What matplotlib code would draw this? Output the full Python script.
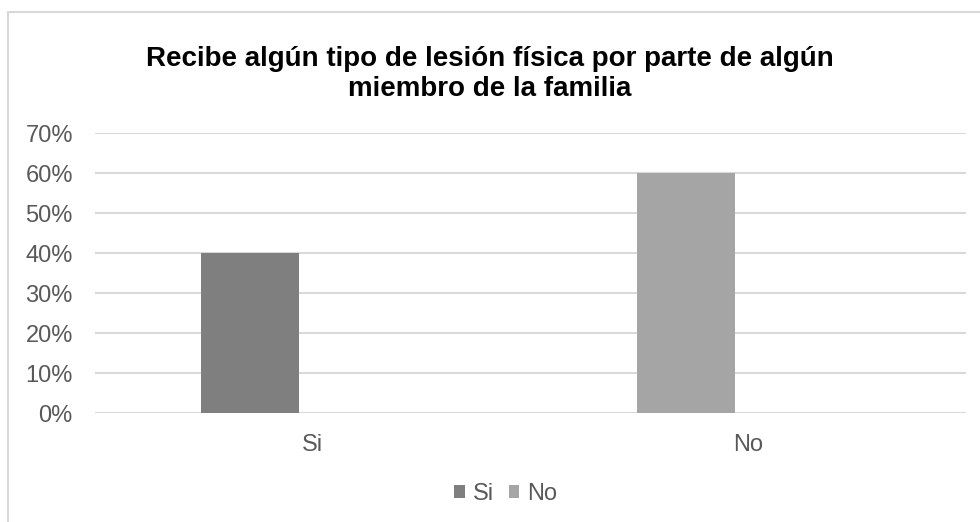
import matplotlib.pyplot as plt
from matplotlib.ticker import PercentFormatter
from matplotlib.patches import Rectangle

# data
categorias = ['Si', 'No']
valores = [0.40, 0.60]
colores = ['#7f7f7f', '#a5a5a5']
titulo = 'Recibe algún tipo de lesión física por parte de algún\nmiembro de la familia'

plt.rcParams['font.family'] = ['Liberation Sans', 'DejaVu Sans']
texto = '#595959'

fig = plt.figure(figsize=(9.8, 5.22), dpi=100)
ax = fig.add_axes([95/980, 109/522, (966-95)/980, (413-133)/522])

# chart frame (runs off the right and bottom edges)
fig.patches.append(Rectangle((8/980, -0.2), 1.2, 0.2 + (522-12.5)/522, transform=fig.transFigure,
                             fill=False, edgecolor='#d9d9d9', linewidth=1.5))

x = range(len(categorias))
barras = []
for i, (c, v) in enumerate(zip(categorias, valores)):
    b = ax.bar(i - 0.143, v, width=0.225, color=colores[i], label=c, zorder=3)
    barras.append(b)

ax.set_xlim(-0.5, 1.5)
ax.set_ylim(0, 0.7)
ax.set_yticks([i/10 for i in range(8)])
ax.yaxis.set_major_formatter(PercentFormatter(1.0, decimals=0))
ax.set_xticks(list(x))
ax.set_xticklabels(categorias)
ax.grid(axis='y', color='#d9d9d9', linewidth=1.5, zorder=0)
for s in ax.spines.values():
    s.set_visible(False)
ax.tick_params(axis='y', length=0, pad=16, labelsize=17, labelcolor=texto)
ax.tick_params(axis='x', length=0, pad=15, labelsize=17, labelcolor=texto)

fig.text(490/980, 1 - 74/522, titulo, ha='center', va='center', fontsize=20,
         fontweight='bold', color='black', linespacing=1.2)

fig.legend(handles=barras, labels=categorias, loc='center', bbox_to_anchor=(506/980, 28/522),
           ncol=2, frameon=False, fontsize=17, labelcolor=texto, handlelength=0.45,
           handleheight=0.45, handletextpad=0.35, columnspacing=0.6)

plt.savefig('out.png', dpi=100)
